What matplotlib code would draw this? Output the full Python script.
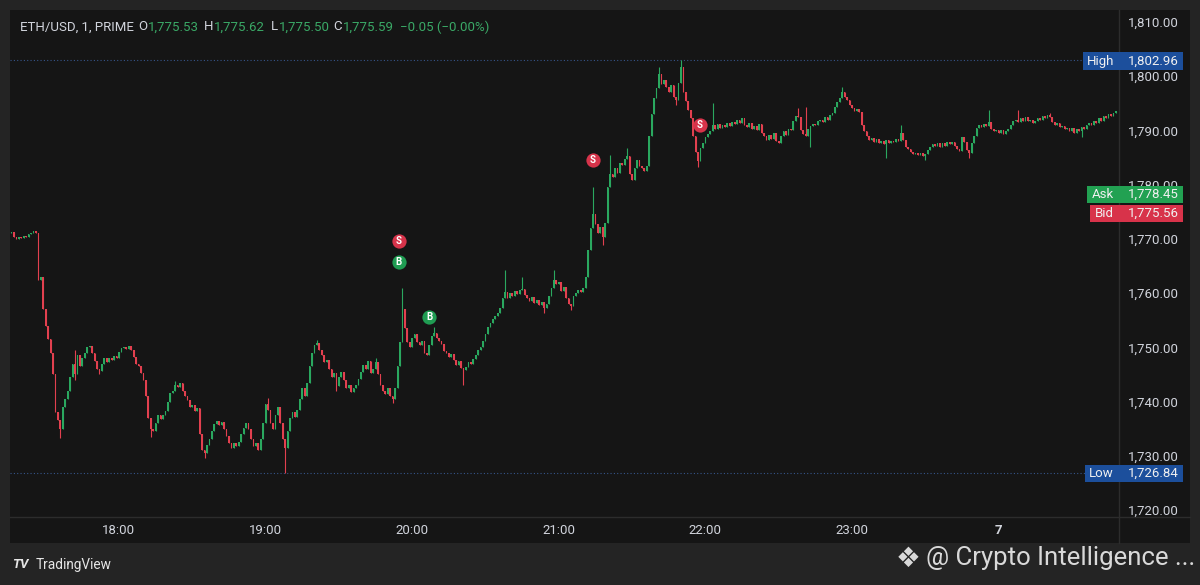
"""
ETH/USD 1-minute candles, TradingView dark style
"""
import numpy as np
import matplotlib.pyplot as plt
from matplotlib.patches import Rectangle
from matplotlib.lines import Line2D

plt.rcParams['font.family'] = ['Roboto', 'DejaVu Sans']

# ---------------- data ----------------
first_open = 1771.0
closes = [
    1771.2, 1770.4, 1770.0, 1770.3, 1770.1, 1770.6, 1770.4, 1770.9, 1771.0, 1771.4,
    1771.1, 1762.4, 1763.0, 1757.0, 1754.0, 1751.5, 1749.0, 1745.0, 1738.0, 1736.5,
    1735.0, 1739.0, 1740.5, 1742.0, 1744.5, 1747.0, 1745.0, 1748.5, 1746.5, 1748.0,
    1749.0, 1750.0, 1750.2, 1749.0, 1747.5, 1746.0, 1745.6, 1747.0, 1748.0, 1747.2,
    1748.0, 1747.6, 1748.4, 1748.0, 1749.2, 1749.8, 1750.0, 1749.6, 1750.2, 1749.5,
    1748.2, 1747.0, 1746.5, 1745.2, 1744.0, 1741.0, 1737.0, 1735.0, 1734.5, 1736.0,
    1737.5, 1736.8, 1737.6, 1738.2, 1740.0, 1741.5, 1742.0, 1743.0, 1742.6, 1743.4,
    1742.0, 1741.0, 1740.2, 1739.0, 1739.4, 1738.2, 1738.8, 1734.0, 1731.0, 1730.5,
    1732.0, 1733.0, 1734.5, 1735.8, 1736.4, 1735.6, 1736.2, 1735.0, 1733.6, 1732.4,
    1731.5, 1732.3, 1731.8, 1732.6, 1734.0, 1735.2, 1736.0, 1735.0, 1733.0, 1731.8,
    1732.4, 1731.0, 1733.0, 1736.0, 1739.5, 1738.5, 1736.0, 1735.0, 1737.5, 1739.0,
    1736.0, 1733.0, 1731.5, 1734.5, 1737.0, 1738.0, 1737.2, 1738.5, 1740.5, 1742.5,
    1741.0, 1743.5, 1746.5, 1749.0, 1750.5, 1750.8, 1749.5, 1748.5, 1747.2, 1747.6,
    1746.0, 1744.5, 1745.2, 1742.8, 1744.6, 1745.5, 1744.0, 1742.5, 1743.0, 1741.8,
    1742.4, 1743.0, 1744.2, 1745.4, 1746.8, 1746.0, 1747.4, 1745.2, 1746.0, 1747.2,
    1745.0, 1743.0, 1742.0, 1741.4, 1742.4, 1741.0, 1740.4, 1742.5, 1746.5, 1751.0,
    1757.0, 1753.5, 1751.0, 1750.0, 1751.8, 1752.4, 1751.0, 1750.4, 1751.2, 1749.0,
    1748.5, 1750.5, 1752.0, 1752.6, 1751.8, 1751.2, 1750.6, 1749.4, 1749.0, 1748.2,
    1748.8, 1747.6, 1746.8, 1747.4, 1746.2, 1745.8, 1746.4, 1747.2, 1747.0, 1747.8,
    1748.6, 1749.5, 1750.0, 1751.2, 1752.5, 1753.8, 1754.4, 1755.2, 1755.8, 1756.4,
    1757.2, 1759.0, 1760.2, 1759.0, 1760.0, 1759.4, 1760.4, 1759.8, 1760.5, 1760.8,
    1759.6, 1759.0, 1758.6, 1759.2, 1758.2, 1758.8, 1757.8, 1758.4, 1757.2, 1758.0,
    1759.4, 1761.0, 1762.4, 1761.6, 1762.0, 1760.4, 1761.2, 1759.0, 1758.0, 1757.6,
    1759.4, 1760.0, 1760.6, 1760.2, 1761.0, 1763.0, 1768.0, 1772.0, 1774.5, 1772.8,
    1771.0, 1772.2, 1770.4, 1773.0, 1779.5, 1782.0, 1781.4, 1783.0, 1782.2, 1784.0,
    1783.6, 1784.8, 1785.2, 1782.0, 1780.8, 1783.0, 1784.6, 1783.4, 1783.0, 1782.6,
    1783.4, 1789.0, 1793.0, 1796.0, 1797.8, 1800.4, 1798.6, 1799.2, 1798.0, 1797.0,
    1798.4, 1796.2, 1795.6, 1798.8, 1801.6, 1797.0, 1795.4, 1793.8, 1792.2, 1789.0,
    1786.0, 1784.4, 1786.8, 1787.6, 1788.8, 1789.4, 1789.8, 1791.0, 1790.2, 1791.2,
    1790.4, 1791.0, 1790.6, 1791.4, 1790.8, 1791.6, 1791.2, 1792.0, 1791.4, 1792.2,
    1791.0, 1790.6, 1791.4, 1790.2, 1790.8, 1790.0, 1791.2, 1789.6, 1789.0, 1788.2,
    1789.2, 1788.4, 1789.6, 1788.0, 1787.6, 1789.0, 1789.8, 1789.2, 1790.2, 1790.0,
    1791.8, 1792.6, 1792.4, 1790.0, 1789.4, 1789.0, 1790.2, 1790.8, 1791.2, 1791.0,
    1791.8, 1792.0, 1791.6, 1792.4, 1792.0, 1792.8, 1793.2, 1794.4, 1795.2, 1796.0,
    1797.0, 1796.2, 1795.6, 1794.6, 1794.2, 1793.6, 1794.0, 1793.4, 1791.0, 1789.8,
    1789.0, 1788.2, 1788.6, 1787.8, 1788.4, 1787.6, 1788.0, 1787.4, 1788.2, 1787.6,
    1788.0, 1787.8, 1788.4, 1788.0, 1789.6, 1788.2, 1787.0, 1786.6, 1786.0, 1785.6,
    1785.8, 1785.4, 1785.9, 1785.2, 1785.6, 1786.4, 1787.0, 1787.4, 1787.2, 1787.6,
    1787.0, 1787.6, 1787.2, 1787.8, 1787.4, 1787.8, 1787.2, 1786.6, 1786.2, 1788.8,
    1787.8, 1786.4, 1785.8, 1787.6, 1789.0, 1790.4, 1791.0, 1790.6, 1791.2, 1790.8,
    1791.6, 1790.2, 1789.8, 1790.0, 1789.6, 1790.0, 1789.4, 1789.8, 1790.2, 1791.0,
    1791.8, 1792.0, 1791.6, 1792.2, 1791.8, 1792.4, 1791.8, 1792.0, 1791.4, 1791.8,
    1792.2, 1792.0, 1792.6, 1792.2, 1792.8, 1792.4, 1791.6, 1791.0, 1791.4, 1790.6,
    1790.8, 1790.2, 1790.4, 1789.8, 1790.4, 1789.6, 1790.2, 1789.8, 1790.6, 1790.2,
    1791.0, 1791.4, 1791.0, 1791.8, 1791.4, 1792.2, 1791.8, 1792.6, 1792.2, 1793.0,
    1792.6, 1793.2, 1793.6,
]
# visible wick extremes (candle index -> price)
wick_high = {11: 1771.0, 26: 1749.5, 67: 1743.8, 105: 1740.6, 125: 1751.4,
             149: 1748.0, 160: 1761.0, 173: 1753.7, 202: 1764.3, 209: 1763.0,
             222: 1764.3, 238: 1779.6, 245: 1785.5, 252: 1786.8, 265: 1801.7,
             274: 1802.96, 287: 1795.0, 322: 1794.1, 325: 1794.3, 340: 1798.0,
             364: 1791.0, 400: 1793.8, 412: 1793.8, 425: 1793.2}
wick_low = {20: 1733.3, 26: 1744.0, 36: 1745.0, 57: 1733.5, 79: 1729.6,
            112: 1726.84, 133: 1742.0, 156: 1739.7, 185: 1743.0, 218: 1756.3,
            229: 1756.9, 242: 1768.9, 272: 1794.7, 281: 1783.3, 327: 1787.0,
            358: 1784.9, 374: 1784.5, 392: 1784.9, 438: 1788.8}

time_ticks = [44, 104, 164, 224, 284, 344, 404]
time_labels = ['18:00', '19:00', '20:00', '21:00', '22:00', '23:00', '7']
price_ticks = [1720, 1730, 1740, 1750, 1760, 1770, 1780, 1790, 1800, 1810]

sig_idx = [158.6, 158.6, 171.0, 238.0, 281.8]
sig_price = [1769.6, 1765.7, 1755.6, 1784.5, 1791.0]
sig_type = ['S', 'B', 'B', 'S', 'S']

high_val = 1802.96
low_val = 1726.84
ask_val = 1778.45
bid_val = 1775.56

# ---------------- colours ----------------
UP = '#2aa85f'
DOWN = '#e2404f'
BG_OUT = '#242424'
BG_CHART = '#151515'
TXT = '#d1d4dc'
SEP = '#2c2c2c'
BLUE = '#1c4f9c'

W, H = 1200, 585


def fx(px):
    return px / W


def fy(py):
    return 1 - py / H


fig = plt.figure(figsize=(W / 100, H / 100), dpi=100, facecolor=BG_OUT)
fig.patches.append(Rectangle((fx(10), fy(543)), fx(1180), 533 / H,
                             transform=fig.transFigure, facecolor=BG_CHART,
                             edgecolor='none', zorder=-10))

ax = fig.add_axes([fx(10), fy(517), fx(1109), 507 / H])
ax.set_facecolor(BG_CHART)
for sp in ax.spines.values():
    sp.set_visible(False)

closes = np.array(closes)
opens = np.concatenate([[first_open], closes[:-1]])
x = np.arange(len(closes))
highs = np.maximum(opens, closes)
lows = np.minimum(opens, closes)
for k, v in wick_high.items():
    highs[k] = max(highs[k], v)
for k, v in wick_low.items():
    lows[k] = min(lows[k], v)
colors = np.where(closes >= opens, UP, DOWN)

ax.vlines(x, lows, highs, colors=colors, linewidth=0.8, zorder=2)
body = np.where(np.abs(closes - opens) < 0.15, 0.15, closes - opens)
ax.bar(x, body, bottom=opens, width=0.7, color=colors, linewidth=0, zorder=3)

# high / low dotted lines
ax.axhline(high_val, color='#36558a', lw=0.8, ls=(0, (1, 2)), zorder=1)
ax.axhline(low_val, color='#36558a', lw=0.8, ls=(0, (1, 2)), zorder=1)

# buy / sell markers
for xi, yi, t in zip(sig_idx, sig_price, sig_type):
    c = '#d6334a' if t == 'S' else '#1f9c52'
    ax.scatter([xi], [yi], s=105, color=c, zorder=5, linewidths=0)
    ax.text(xi, yi, t, color='white', fontsize=7, fontweight='bold',
            ha='center', va='center', zorder=6)

ax.set_xlim(-0.61, 453.3)
ax.set_ylim(1718.7, 1812.2)
ax.set_xticks([])
ax.yaxis.tick_right()
ax.set_yticks(price_ticks)
ax.set_yticklabels([f'{p:,.2f}' for p in price_ticks])
ax.tick_params(axis='y', length=0, pad=6.5, labelsize=9.5, labelcolor=TXT)

# separators
fig.add_artist(Line2D([fx(1119), fx(1119)], [fy(10), fy(543)], color=SEP, lw=1))
fig.add_artist(Line2D([fx(10), fx(1190)], [fy(517), fy(517)], color=SEP, lw=1))

# time labels
for t, lab in zip(time_ticks, time_labels):
    px = 10 + (t + 0.61) * 1109 / 453.91
    fig.text(fx(px), fy(531), lab, color=TXT, fontsize=9.5, ha='center', va='center',
             fontweight='bold' if lab == '7' else 'normal')


# price boxes on the axis
def price_box(x0, y0, y1, name, val, col):
    fig.patches.append(Rectangle((fx(x0), fy(y1)), fx(1183 - x0), (y1 - y0) / H,
                                 transform=fig.transFigure, facecolor=col,
                                 edgecolor='none', zorder=4))
    fig.text(fx(1114), fy((y0 + y1) / 2), name, color='#f0f0f0', fontsize=9.5,
             ha='right', va='center', zorder=5)
    fig.text(fx(1128), fy((y0 + y1) / 2), f'{val:,.2f}', color='#f0f0f0',
             fontsize=9.5, ha='left', va='center', zorder=5)


price_box(1083, 52, 70, 'High', high_val, BLUE)
price_box(1087, 186, 203, 'Ask', ask_val, '#22a152')
price_box(1090, 205, 222, 'Bid', bid_val, '#d8334a')
price_box(1085, 465, 482, 'Low', low_val, BLUE)

# header
HG = '#3aa866'
head = [(20, 'ETH/USD, 1, PRIME', TXT), (138, 'O', TXT), (148, '1,775.53', HG),
        (204, 'H', TXT), (214, '1,775.62', HG), (271, 'L', TXT), (279, '1,775.50', HG),
        (333, 'C', TXT), (343, '1,775.59', HG), (400, '\u22120.05 (\u22120.00%)', HG)]
for px, s, c in head:
    fig.text(fx(px), fy(27), s, color=c, fontsize=9.5, ha='left', va='center')

# footer
fig.text(fx(12), fy(565), 'TV', color='#e6e6e6', fontsize=9.5, fontweight='bold',
         ha='left', va='center', fontstyle='italic')
fig.text(fx(36), fy(565), 'TradingView', color='#e6e6e6', fontsize=9.8,
         ha='left', va='center')
fig.text(fx(908), fy(559), '\u2756', color='#d9d9d9', fontsize=20,
         ha='center', va='center', family=['DejaVu Sans'])
fig.text(fx(1195), fy(558), '@ Crypto Intelligence ...', color='#d9d9d9',
         fontsize=18.5, ha='right', va='center')

fig.savefig('out.png', dpi=100, facecolor=BG_OUT)
